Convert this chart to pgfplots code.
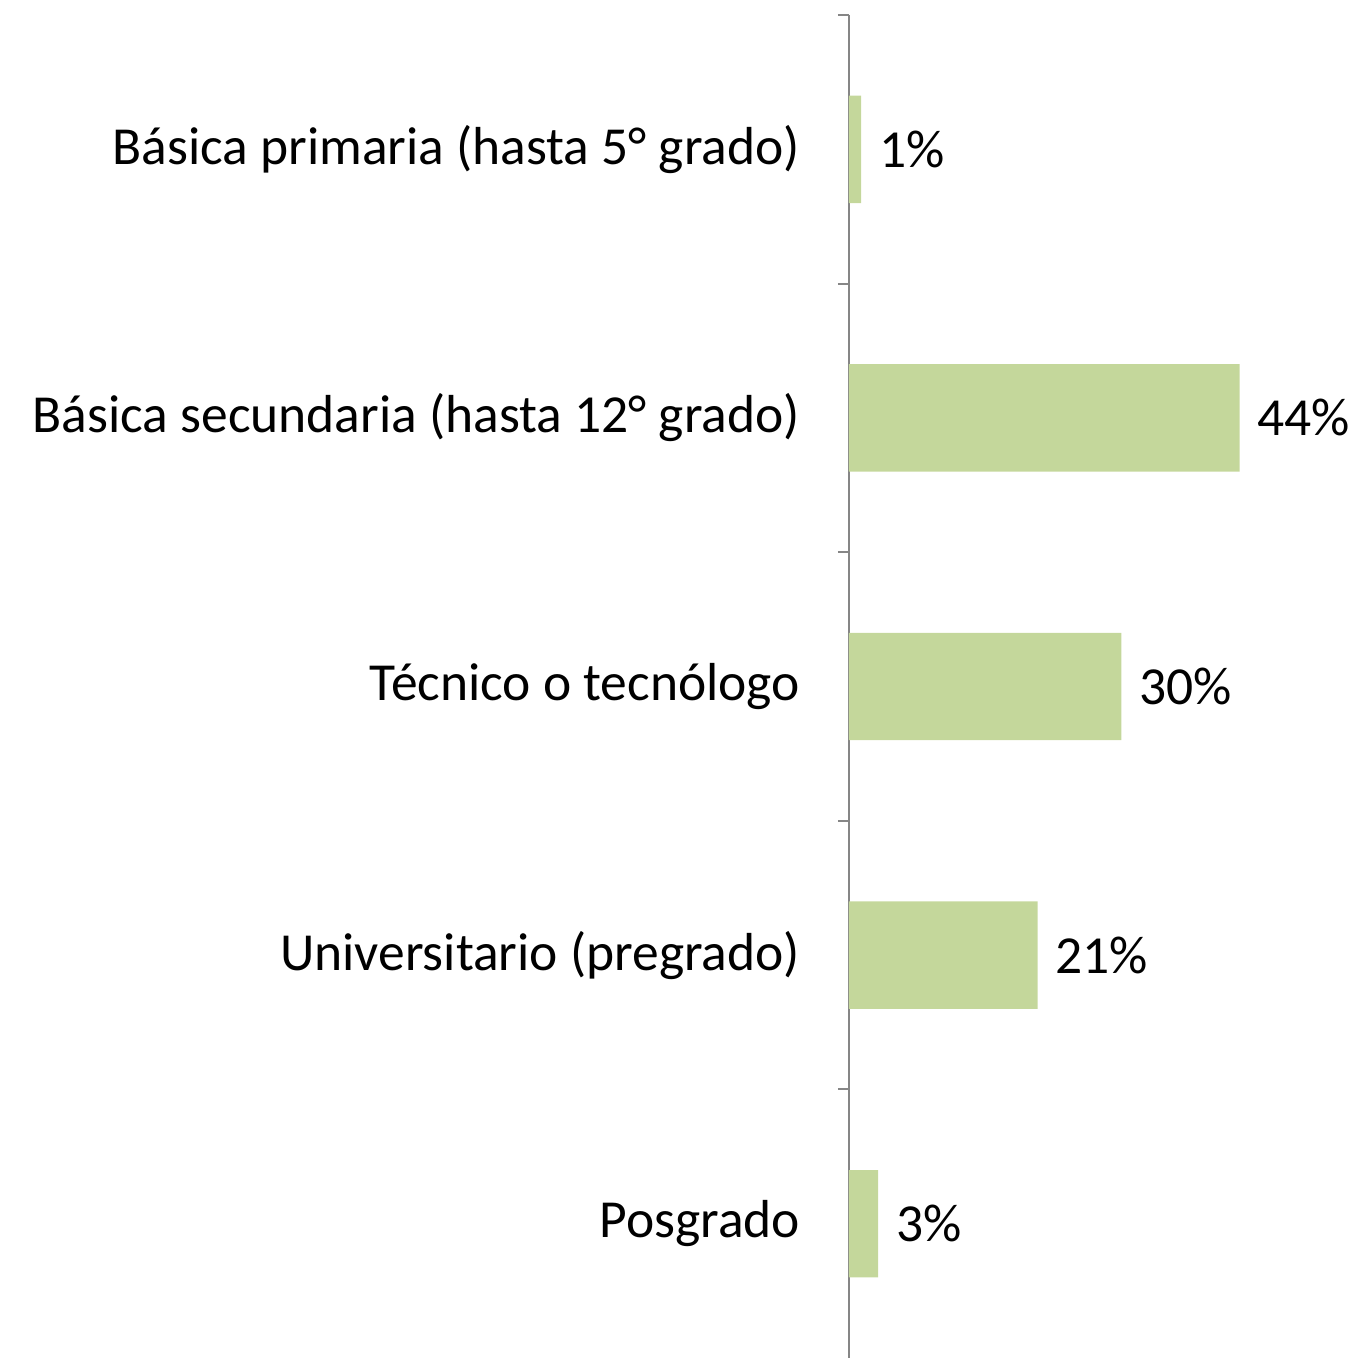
\documentclass[border=0pt]{standalone}
\usepackage{fontspec}
\setmainfont{Carlito}
\usepackage{pgfplots}
\pgfplotsset{compat=1.18}
\definecolor{barg}{HTML}{C4D79B}
\definecolor{axg}{HTML}{868686}
\begin{document}
\begin{tikzpicture}
\useasboundingbox (-254.7pt,0) rectangle (154.8pt,407.4pt);
\begin{axis}[
  at={(0,0)}, anchor=south west,
  xbar, scale only axis, width=133.5pt, height=402.9pt,
  xmin=0, xmax=50, ymin=-0.5, ymax=4.5, y dir=reverse,
  axis x line=none, axis y line*=left,
  y axis line style={axg, line width=0.6pt},
  ytick={0,1,2,3,4},
  yticklabels={Básica primaria (hasta 5° grado),Básica secundaria (hasta 12° grado),Técnico o tecnólogo,Universitario (pregrado),Posgrado},
  major tick length=0pt,
  yticklabel style={font=\fontsize{16.05}{19}\selectfont, anchor=east, inner sep=0pt, xshift=-14.5pt},
  extra y ticks={-0.5,0.5,1.5,2.5,3.5},
  extra y tick labels={},
  extra y tick style={major tick length=3.3pt, tick align=outside, tick style={axg, line width=0.6pt}},
  bar width=0.4,
  point meta=explicit symbolic,
  nodes near coords,
  nodes near coords style={font=\fontsize{16.05}{19}\selectfont, anchor=west, inner sep=0pt, xshift=5.2pt},
  clip=false,
]
\addplot[fill=barg, draw=none] coordinates {
  (1.35,0) [1\%]
  (43.9,1) [44\%]
  (30.6,2) [30\%]
  (21.2,3) [21\%]
  (3.26,4) [3\%]
};
\end{axis}
\end{tikzpicture}
\end{document}
